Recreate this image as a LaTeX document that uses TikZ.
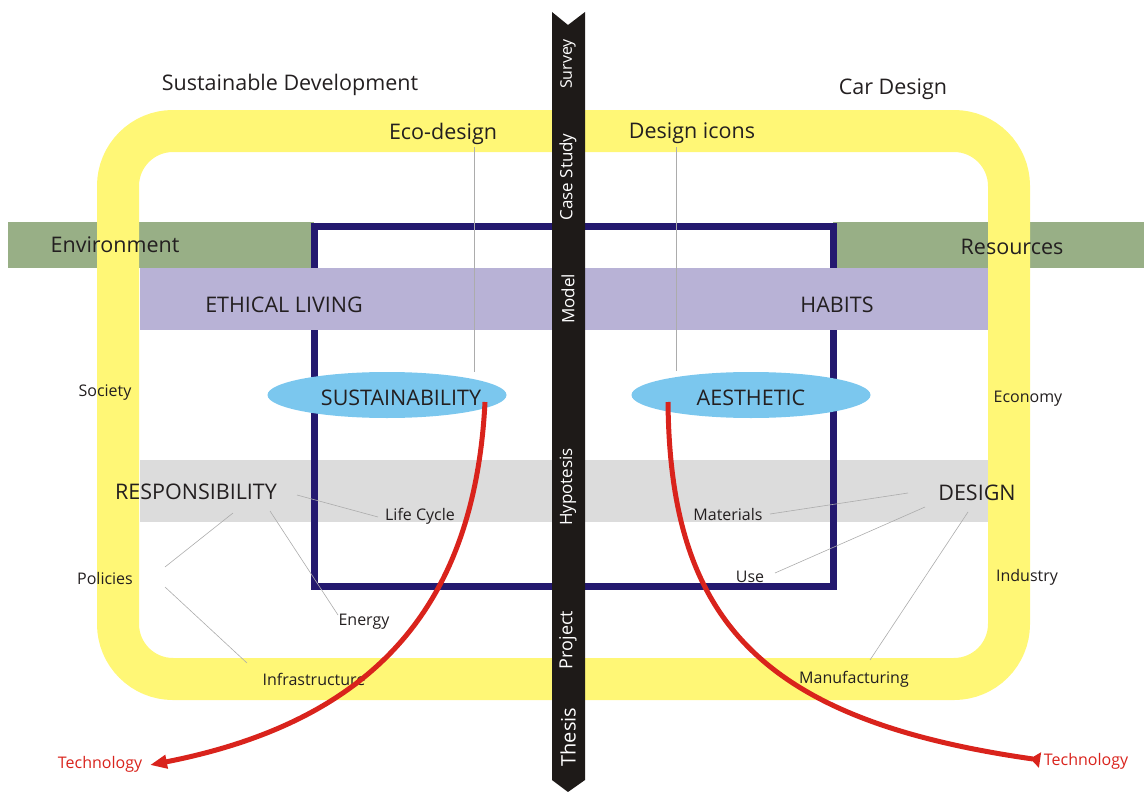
\documentclass[tikz,border=0pt]{standalone}
\usepackage{fontspec}
\setmainfont{Open Sans}
\usetikzlibrary{arrows.meta,shapes.geometric}
\definecolor{ygold}{HTML}{FFF776}
\definecolor{envgreen}{HTML}{98AF86}
\definecolor{lav}{HTML}{B8B2D6}
\definecolor{lgray}{HTML}{DCDCDC}
\definecolor{navy}{HTML}{24196F}
\definecolor{skyb}{HTML}{7BC7EE}
\definecolor{redc}{HTML}{D9231C}
\definecolor{barblk}{HTML}{1E1A18}
\definecolor{txt}{HTML}{231F20}
\tikzset{
  big/.style={text=txt,font=\fontsize{21.5}{24}\selectfont,inner sep=0pt,yshift=-2.5pt},
  small/.style={text=txt,font=\fontsize{16}{18}\selectfont,inner sep=0pt,yshift=-2pt},
  bartext/.style={text=white,font=\fontsize{17}{19}\selectfont,rotate=90,inner sep=0pt},
  thin/.style={draw=gray!65,line width=0.6pt},
  redarrow/.style={draw=redc,line width=5pt},
  oval/.style={ellipse,fill=skyb,minimum width=239pt,minimum height=46pt,inner sep=0pt}
}
\begin{document}
\begin{tikzpicture}[x=1pt,y=-1pt]
\useasboundingbox (0,0) rectangle (1144,792);
% green bars
\fill[envgreen] (8,222) rectangle (314,268);
\fill[envgreen] (833,222) rectangle (1144,268);
% yellow frame
\draw[ygold,line width=42pt,rounded corners=55pt] (118,131) rectangle (1009,679);
% gray band
\fill[lgray] (140,460) rectangle (988,522);
% navy rectangle
\draw[navy,line width=7pt] (314,226) rectangle (833,586);
% purple band
\fill[lav] (140,268) rectangle (988,330);
% ellipses
\node[oval] (sus) at (387,395) {};
\node[oval] (aes) at (751,395) {};
% texts
\node[big] (sd) at (290,82) {Sustainable Development};
\node[big] (cd) at (893,87) {Car Design};
\node[big] (eco) at (443,131) {Eco-design};
\node[big] (icons) at (692,131) {Design icons};
\node[big] (env) at (115,242) {Environment};
\node[big] (res) at (1012,244) {Resources};
\node[big] (eth) at (284,302) {ETHICAL LIVING};
\node[big] (hab) at (837,302) {HABITS};
\node[big] (sust) at (401,395) {SUSTAINABILITY};
\node[big] (aest) at (751,395) {AESTHETIC};
\node[big] (resp) at (196,489) {RESPONSIBILITY};
\node[big] (des) at (977,490) {DESIGN};
\node[small] (soc) at (105,391) {Society};
\node[small] (eco2) at (1028,397) {Economy};
\node[small] (life) at (420,514) {Life Cycle};
\node[small] (mat) at (728,512) {Materials};
\node[small] (pol) at (105,576) {Policies};
\node[small] (use) at (750,575) {Use};
\node[small] (ind) at (1027,575) {Industry};
\node[small] (ene) at (364,620) {Energy};
\node[small] (inf) at (314,677) {Infrastructure};
\node[small] (man) at (854,677) {Manufacturing};
\node[small,text=redc] (techl) at (100,762) {Technology};
\node[small,text=redc] (techr) at (1086,759) {Technology};
% connector coordinates
\coordinate (ecoT) at (474,147);
\coordinate (ecoB) at (474,372);
\coordinate (icT) at (676,147);
\coordinate (icB) at (676,371);
\draw[thin] (ecoT) -- (ecoB);
\draw[thin] (icT) -- (icB);
\coordinate (r1) at (297,495); \coordinate (l1) at (378,517);
\coordinate (r2) at (233,513); \coordinate (p1) at (165,567);
\coordinate (p2) at (165,587); \coordinate (i1) at (247,663);
\coordinate (r3) at (270,511); \coordinate (e1) at (338,615);
\coordinate (d1) at (908,493); \coordinate (m1) at (770,514);
\coordinate (d2) at (925,507); \coordinate (u1) at (775,573);
\coordinate (d3) at (968,512); \coordinate (mf1) at (870,660);
\draw[thin] (r1) -- (l1);
\draw[thin] (r2) -- (p1);
\draw[thin] (p2) -- (i1);
\draw[thin] (r3) -- (e1);
\draw[thin] (d1) -- (m1);
\draw[thin] (d2) -- (u1);
\draw[thin] (d3) -- (mf1);
% red curves
\coordinate (sA) at (485,402);
\coordinate (sEnd) at (150,765);
\coordinate (aA) at (668,402);
\coordinate (aEnd) at (1040,760);
\draw[redarrow,-{Triangle[length=17pt,width=13pt]}] (sA) .. controls (475,600) and (380,720) .. (sEnd);
\draw[redarrow,-{Triangle[reversed,length=10pt,width=15pt]}] (aA) .. controls (670,620) and (760,720) .. (aEnd);
% black bar
\fill[barblk] (552,12) -- (568,25) -- (585,12) -- (585,780) -- (568,792) -- (552,780) -- cycle;
\node[bartext,font=\fontsize{16}{18}\selectfont] (sv) at (568,64) {Survey};
\node[bartext] (cs) at (568,177) {Case Study};
\node[bartext] (mo) at (568,299) {Model};
\node[bartext] (hy) at (568,487) {Hypotesis};
\node[bartext,font=\fontsize{18}{20}\selectfont] (pr) at (568,640) {Project};
\node[bartext,font=\fontsize{20}{22}\selectfont] (th) at (568,737) {Thesis};
\end{tikzpicture}
\end{document}
